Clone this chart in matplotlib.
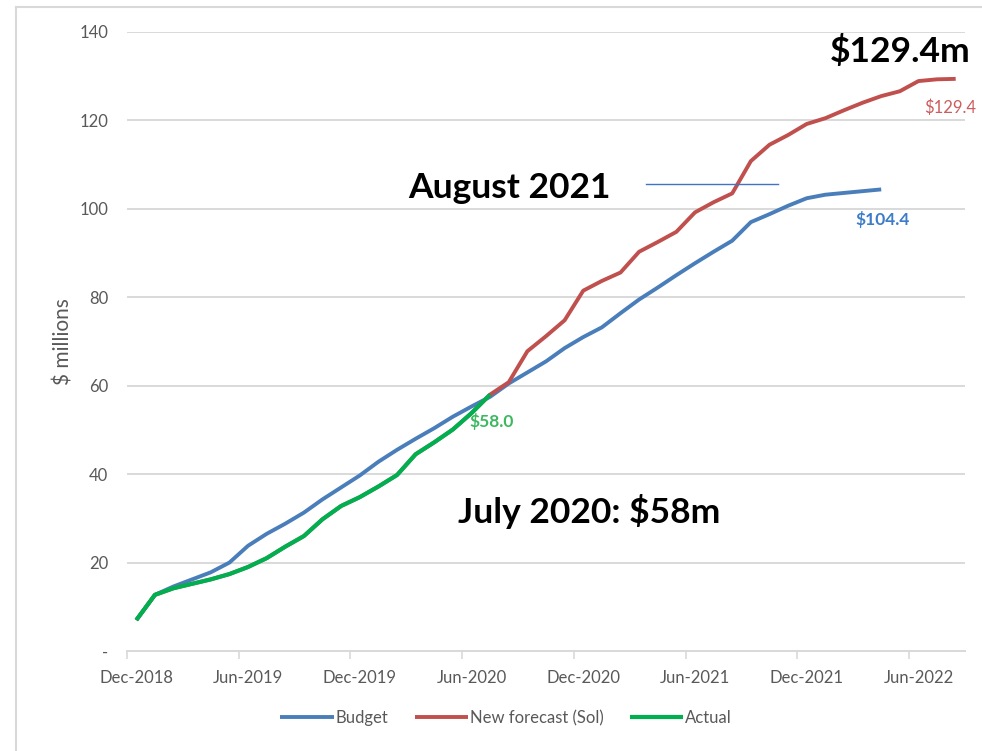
import numpy as np
import matplotlib.pyplot as plt
from matplotlib.lines import Line2D

plt.rcParams['font.family'] = ['Lato', 'DejaVu Sans']

# monthly categories start at Dec-2018 (index 0) and run to Aug-2022 (index 44)
n_months = 45
xtick_pos = [0, 6, 12, 18, 24, 30, 36, 42]
xtick_labels = ["Dec-2018", "Jun-2019", "Dec-2019", "Jun-2020",
                "Dec-2020", "Jun-2021", "Dec-2021", "Jun-2022"]
ytick_pos = [0, 20, 40, 60, 80, 100, 120, 140]
ytick_labels = ["-", "20", "40", "60", "80", "100", "120", "140"]

budget = [7.0, 12.7, 14.6, 16.2, 17.8, 20.0, 23.8, 26.5, 28.8, 31.3,
          34.3, 37.0, 39.7, 42.8, 45.5, 48.0, 50.4, 53.0, 55.3, 57.5,
          60.5, 63.0, 65.5, 68.5, 71.0, 73.2, 76.4, 79.5, 82.2, 85.0,
          87.7, 90.3, 92.8, 97.0, 98.8, 100.7, 102.4, 103.2, 103.6, 104.0,
          104.4]

forecast = [7.0, 12.7, 14.2, 15.2, 16.2, 17.4, 19.0, 21.0, 23.6, 26.0,
            29.8, 32.8, 34.8, 37.2, 39.8, 44.5, 47.2, 50.1, 53.8, 58.0,
            60.8, 67.8, 71.2, 74.8, 81.5, 83.7, 85.6, 90.3, 92.5, 94.8,
            99.2, 101.5, 103.5, 110.8, 114.5, 116.7, 119.2, 120.5, 122.3, 124.0,
            125.5, 126.6, 128.9, 129.3, 129.4]

actual = [7.0, 12.7, 14.2, 15.2, 16.2, 17.4, 19.0, 21.0, 23.6, 26.0,
          29.8, 32.8, 34.8, 37.2, 39.8, 44.5, 47.2, 50.1, 53.8, 58.0]

c_blue = "#4a7ebb"
c_red = "#c0504d"
c_green = "#00b050"
c_grid = "#d9d9d9"
c_text = "#595959"

W, H = 982, 751
fig = plt.figure(figsize=(W / 100, H / 100), dpi=100)

def fx(px):
    return px / W

def fy(py):
    return 1 - py / H

ax = fig.add_axes([fx(127), fy(651), fx(965) - fx(127), fy(32) - fy(651)])

ax.plot(np.arange(len(budget)), budget, color=c_blue, lw=2.8, label="Budget",
        solid_capstyle="butt", zorder=3)
ax.plot(np.arange(len(forecast)), forecast, color=c_red, lw=2.8,
        label="New forecast (Sol)", solid_capstyle="butt", zorder=3)
ax.plot(np.arange(len(actual)), actual, color=c_green, lw=3.0, label="Actual",
        solid_capstyle="butt", zorder=4)

ax.set_xlim(-0.5, n_months - 0.5)
ax.set_ylim(0, 140)

ax.set_yticks(ytick_pos)
ax.set_yticklabels(ytick_labels)
ax.set_xticks(xtick_pos)
ax.set_xticklabels(xtick_labels)
ax.set_xticks([p - 0.5 for p in xtick_pos], minor=True)
ax.tick_params(axis="x", which="major", length=0, pad=14, labelsize=12,
               labelcolor=c_text)
ax.tick_params(axis="x", which="minor", length=6, width=1.2, color=c_grid)
ax.tick_params(axis="y", length=0, pad=13.5, labelsize=12, labelcolor=c_text)

ax.grid(axis="y", color=c_grid, lw=1.4)
ax.set_axisbelow(True)
for side in ["top", "right", "left"]:
    ax.spines[side].set_visible(False)
ax.spines["bottom"].set_color(c_grid)
ax.spines["bottom"].set_linewidth(1.4)

ax.set_ylabel("$ millions", fontsize=15, color=c_text)
ax.yaxis.set_label_coords((73 - 127) / 838, 0.5)

# end-point value labels
ax.text(38.6, 97.7, "$104.4", color="#3d7cc9", fontsize=12.5, fontweight="bold",
        va="center", ha="left")
ax.text(42.3, 122.8, "$129.4", color="#cd5c5c", fontsize=12,
        va="center", ha="left", clip_on=False)
ax.text(17.9, 51.9, "$58.0", color="#3cb860", fontsize=12.5, fontweight="bold",
        va="center", ha="left")

# big callouts
fig.text(fx(408), fy(198), "August 2021", fontsize=25.5, fontweight="bold",
         color="black", ha="left", va="baseline")
fig.text(fx(830), fy(62), "$129.4m", fontsize=25.5, fontweight="bold",
         color="black", ha="left", va="baseline")
fig.text(fx(458), fy(523), "July 2020: $58m", fontsize=25.5, fontweight="bold",
         color="black", ha="left", va="baseline")
fig.add_artist(Line2D([fx(646), fx(778)], [fy(184), fy(184)],
                      color="#4472c4", lw=1.0))

# chart frame (left and top edges visible)
fig.add_artist(Line2D([fx(16), fx(16)], [fy(7), fy(751)], color=c_grid, lw=1.5))
fig.add_artist(Line2D([fx(16), fx(982)], [fy(7), fy(7)], color=c_grid, lw=1.5))

ax.legend(loc="center", bbox_to_anchor=(fx(506), fy(718)),
          bbox_transform=fig.transFigure, ncol=3, frameon=False,
          fontsize=12, handlelength=3.2, handletextpad=0.1,
          columnspacing=1.6, labelcolor=c_text)

fig.savefig("out.png", dpi=100)
